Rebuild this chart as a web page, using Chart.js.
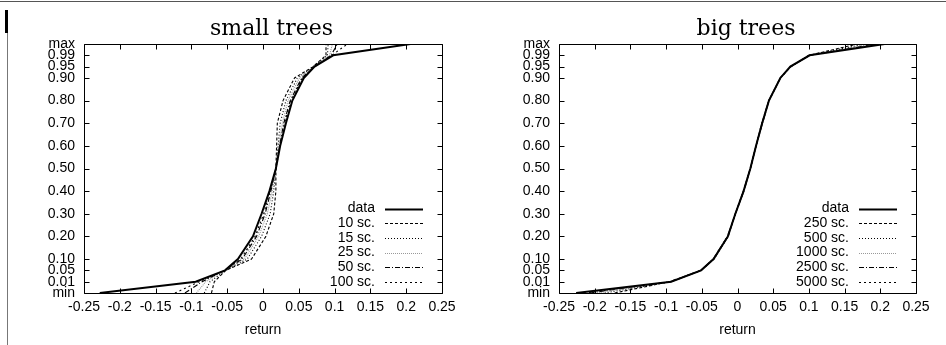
<!DOCTYPE html>
<html><head><meta charset="utf-8">
<script src="https://cdn.jsdelivr.net/npm/chart.js@4/dist/chart.umd.min.js"></script>
<style>
html,body{margin:0;padding:0;background:#fff;}
body{width:946px;height:345px;position:relative;overflow:hidden;}
.c{position:absolute;top:0;width:473px;height:345px;}
#f1{position:absolute;left:0;top:1px;width:946px;height:1px;background:#555;}
#f2{position:absolute;left:7px;top:10px;width:1px;height:335px;background:#777;}
#f3{position:absolute;left:5px;top:10px;width:3px;height:23px;background:#000;}
</style></head>
<body>
<div id="f1"></div><div id="f2"></div><div id="f3"></div>
<div class="c" style="left:0"><canvas id="cL" width="473" height="345"></canvas></div>
<div class="c" style="left:473px"><canvas id="cR" width="473" height="345"></canvas></div>
<script>
// quantile levels (y) and tick labels
const quantileLevels = [0,0.01,0.05,0.10,0.20,0.30,0.40,0.50,0.60,0.70,0.80,0.90,0.95,0.99,1];
const quantileTickLabels = ['min','0.01','0.05','0.10','0.20','0.30','0.40','0.50','0.60','0.70','0.80','0.90','0.95','0.99','max'];
const xTickValues = [-0.25,-0.2,-0.15,-0.1,-0.05,0,0.05,0.1,0.15,0.2,0.25];
const xTickLabels = ['-0.25','-0.2','-0.15','-0.1','-0.05','0','0.05','0.1','0.15','0.2','0.25'];

// small trees: return at each quantile level
const smallTitle = 'small trees';
const smallLabels = ['data','10 sc.','15 sc.','25 sc.','50 sc.','100 sc.'];
const smallData   = [-0.228,-0.094,-0.053,-0.035,-0.014,-0.002,0.009,0.018,0.024,0.032,0.041,0.057,0.072,0.098,0.206];
const small10     = [-0.072,-0.068,-0.052,-0.016,0.004,0.015,0.018,0.018,0.019,0.020,0.028,0.044,0.070,0.088,0.088];
const small15     = [-0.082,-0.074,-0.052,-0.022,-0.002,0.010,0.015,0.018,0.021,0.024,0.032,0.048,0.070,0.090,0.091];
const small25     = [-0.093,-0.080,-0.053,-0.026,-0.006,0.006,0.013,0.018,0.022,0.027,0.035,0.051,0.071,0.093,0.097];
const small50     = [-0.109,-0.085,-0.053,-0.029,-0.009,0.003,0.011,0.018,0.023,0.029,0.038,0.054,0.071,0.095,0.104];
const small100    = [-0.123,-0.089,-0.053,-0.031,-0.011,0.001,0.010,0.018,0.024,0.030,0.039,0.055,0.072,0.096,0.118];

// big trees
const bigTitle = 'big trees';
const bigLabels = ['data','250 sc.','500 sc.','1000 sc.','2500 sc.','5000 sc.'];
const bigData   = [-0.226,-0.093,-0.051,-0.0335,-0.0135,-0.003,0.0085,0.018,0.026,0.0345,0.044,0.060,0.074,0.101,0.206];
const big250    = [-0.172,-0.095,-0.051,-0.033,-0.013,-0.003,0.008,0.018,0.026,0.034,0.044,0.060,0.075,0.100,0.168];
const big500    = [-0.186,-0.094,-0.051,-0.033,-0.013,-0.003,0.008,0.018,0.026,0.034,0.044,0.060,0.074,0.101,0.178];
const big1000   = [-0.197,-0.094,-0.051,-0.034,-0.013,-0.003,0.009,0.018,0.026,0.035,0.044,0.060,0.074,0.101,0.186];
const big2500   = [-0.207,-0.093,-0.051,-0.034,-0.014,-0.003,0.009,0.018,0.026,0.035,0.044,0.060,0.074,0.101,0.193];
const big5000   = [-0.215,-0.093,-0.051,-0.034,-0.014,-0.003,0.009,0.018,0.026,0.035,0.044,0.060,0.074,0.101,0.198];

const lineStyles = [
  {color:'#000', width:2, dash:[]},
  {color:'#000', width:1.1, dash:[3,2]},
  {color:'#000', width:1.1, dash:[1,2]},
  {color:'#999', width:1.1, dash:[1,1]},
  {color:'#000', width:1.1, dash:[5,2,1,2]},
  {color:'#000', width:1.1, dash:[2,3]}
];

// probability-paper style axis: tails compressed
function qpos(level){
  const bl=[0,0.01,0.05,0.10,0.90,0.95,0.99,1], bp=[0,0.5,1,1.5,9.5,10,10.5,11];
  for(let i=1;i<bl.length;i++){
    if(level<=bl[i]+1e-9){const t=(level-bl[i-1])/(bl[i]-bl[i-1]);return bp[i-1]+t*(bp[i]-bp[i-1]);}
  }
  return 11;
}

const SANS='"Liberation Sans", Arial, sans-serif';

const framePlugin = {
  id:'frame',
  afterDatasetsDraw(chart){
    const ctx=chart.ctx, a=chart.chartArea, xs=chart.scales.x, ys=chart.scales.y;
    ctx.save();
    ctx.strokeStyle='#000'; ctx.lineWidth=1; ctx.setLineDash([]);
    ctx.beginPath();
    const L=Math.round(a.left)+0.5, R=Math.round(a.right)+0.5, T=Math.round(a.top)+0.5, B=Math.round(a.bottom)+0.5;
    ctx.rect(L,T,R-L,B-T);
    const tl=5;
    xTickValues.forEach(v=>{const px=Math.round(xs.getPixelForValue(v))+0.5;ctx.moveTo(px,B);ctx.lineTo(px,B-tl);ctx.moveTo(px,T);ctx.lineTo(px,T+tl);});
    quantileLevels.forEach(q=>{const py=Math.round(ys.getPixelForValue(qpos(q)))+0.5;ctx.moveTo(L,py);ctx.lineTo(L+tl,py);ctx.moveTo(R,py);ctx.lineTo(R-tl,py);});
    ctx.stroke();
    // title
    ctx.fillStyle='#000';
    ctx.font='22px "DejaVu Serif", serif';
    ctx.textAlign='center'; ctx.textBaseline='alphabetic';
    ctx.fillText(chart.options.plugins.frame.title,(a.left+a.right)/2+8.5,35);
    // legend
    ctx.font='14px '+SANS;
    ctx.textAlign='right'; ctx.textBaseline='middle';
    const ds=chart.data.datasets, n=ds.length;
    ds.forEach((d,i)=>{
      const y=a.bottom-11-(n-1-i)*14.7;
      ctx.fillStyle='#000';
      ctx.fillText(d.label,a.right-67,y);
      ctx.beginPath();
      ctx.strokeStyle=d.borderColor; ctx.lineWidth=d.borderWidth; ctx.setLineDash(d.borderDash);
      const yy=Math.round(y)+0.5;
      ctx.moveTo(a.right-57,yy); ctx.lineTo(a.right-19,yy); ctx.stroke();
    });
    ctx.restore();
  }
};

function makeChart(id,title,labels,series,yWidth,padRight){
  const datasets=series.map((vals,i)=>({
    label:labels[i],
    data:vals.map((v,j)=>({x:v,y:qpos(quantileLevels[j])})),
    borderColor:lineStyles[i].color,
    borderWidth:lineStyles[i].width,
    borderDash:lineStyles[i].dash,
    pointRadius:0, tension:0, fill:false
  }));
  return new Chart(document.getElementById(id),{
    type:'line',
    data:{datasets},
    options:{
      responsive:false, animation:false, devicePixelRatio:1,
      layout:{padding:{left:0,top:44,right:padRight,bottom:0}},
      plugins:{legend:{display:false},tooltip:{enabled:false},frame:{title}},
      scales:{
        x:{type:'linear',min:-0.25,max:0.25,
          grid:{display:false,drawTicks:false},border:{display:false},
          afterBuildTicks(s){s.ticks=xTickValues.map(v=>({value:v}));},
          afterFit(s){s.height=52;},
          ticks:{color:'#000',font:{family:SANS,size:14},padding:6,maxRotation:0,autoSkip:false,
            callback:(v,i)=>xTickLabels[i]},
          title:{display:true,text:'return',color:'#000',font:{family:SANS,size:14},padding:{top:0,bottom:6}}
        },
        y:{type:'linear',min:0,max:11,
          grid:{display:false,drawTicks:false},border:{display:false},
          afterBuildTicks(s){s.ticks=quantileLevels.map(q=>({value:qpos(q)}));},
          afterFit(s){s.width=yWidth;},
          ticks:{color:'#000',font:{family:SANS,size:14,lineHeight:1},padding:9,autoSkip:false,
            callback:(v,i)=>quantileTickLabels[i]}
        }
      }
    },
    plugins:[framePlugin]
  });
}

makeChart('cL',smallTitle,smallLabels,[smallData,small10,small15,small25,small50,small100],84,31);
makeChart('cR',bigTitle,bigLabels,[bigData,big250,big500,big1000,big2500,big5000],86,30);
</script>
</body></html>
